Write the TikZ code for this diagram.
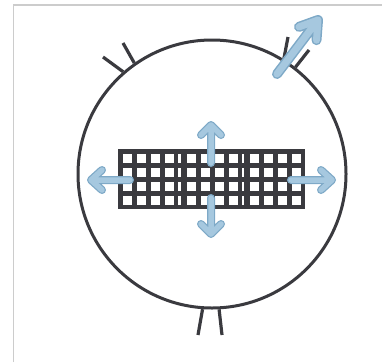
\documentclass[tikz,border=0pt]{standalone}
\usepackage{tikz}
\usetikzlibrary{calc}
\definecolor{rim}{HTML}{3A3A3F}
\definecolor{framegray}{HTML}{CCCCCC}
\definecolor{flowedge}{HTML}{7EA9C7}
\definecolor{flowfill}{HTML}{A6C8DF}

\begin{document}
\begin{tikzpicture}[x=1pt,y=-1pt,
  frame/.style={framegray,line width=1.5pt},
  membrane/.style={circle,draw=rim,line width=3pt,inner sep=0pt,minimum size=268pt},
  stub/.style={rim,line width=3.2pt},
  flowout/.style={draw=flowedge,line width=#1,line cap=round,line join=round},
  flowout/.default=8pt,
  flowin/.style={flowfill,line width=5.5pt,line cap=round,line join=round}]
\useasboundingbox (0,0) rectangle (382,362);
% page frame, only left and top edge show
\draw[frame] (13.5,362) -- (13.5,5) -- (382,5);
% the cell
\node[membrane] (cell) at (212,174) {};
% receptor stubs on the membrane
\draw[stub] (cell.131.7) -- (103,57);
\draw[stub] (cell.125.4) -- (123,43);
\draw[stub] (cell.266) -- (198,335);
\draw[stub] (cell.273) -- (222,335);
\draw[stub] (cell.58.8) -- (288,37);
\draw[stub] (cell.52.2) -- (309,50);
% the mesh
\fill[rim] (118,149) rectangle (304.5,209);
\foreach \x in {122.5,136.5,150.5,164.5,186.5,200.5,214.5,228.5,249.5,263.5,277.5,291.5}
  \foreach \y in {153.5,167.5,181.5,195.5}
    \fill[white] (\x,\y) rectangle ++(9,9);
\foreach \x/\w in {178/2.6,241.7/2.4}
  \foreach \y in {153.5,167.5,181.5,195.5}
    \fill[white] (\x,\y) rectangle ++(\w,9);
% flow arrows
\coordinate (up0) at (211,163); \coordinate (up1) at (211,125);
\coordinate (dn0) at (211,198); \coordinate (dn1) at (211,234);
\coordinate (lf0) at (130,180); \coordinate (lf1) at (91,180);
\coordinate (rt0) at (291,180); \coordinate (rt1) at (332,180);
\foreach \a/\dep/\half in {up/10pt/10pt,dn/10pt/10pt,lf/11pt/10pt,rt/11pt/10pt}
  \draw[flowin,preaction={flowout}] (\a0) -- (\a1)
    ($(\a1)!\dep!(\a0)!\half!90:(\a1)$) -- (\a1) -- ($(\a1)!\dep!(\a0)!\half!-90:(\a1)$);
% outgoing arrow, top right
\coordinate (ex0) at (277,74); \coordinate (ex1) at (318,20);
\draw[flowin,line width=7pt,preaction={flowout=10pt}] (ex0) -- (ex1)
  ($(ex1)!17pt!(ex0)!11pt!90:(ex1)$) -- (ex1) -- ($(ex1)!17pt!(ex0)!11pt!-90:(ex1)$);
\end{tikzpicture}
\end{document}
